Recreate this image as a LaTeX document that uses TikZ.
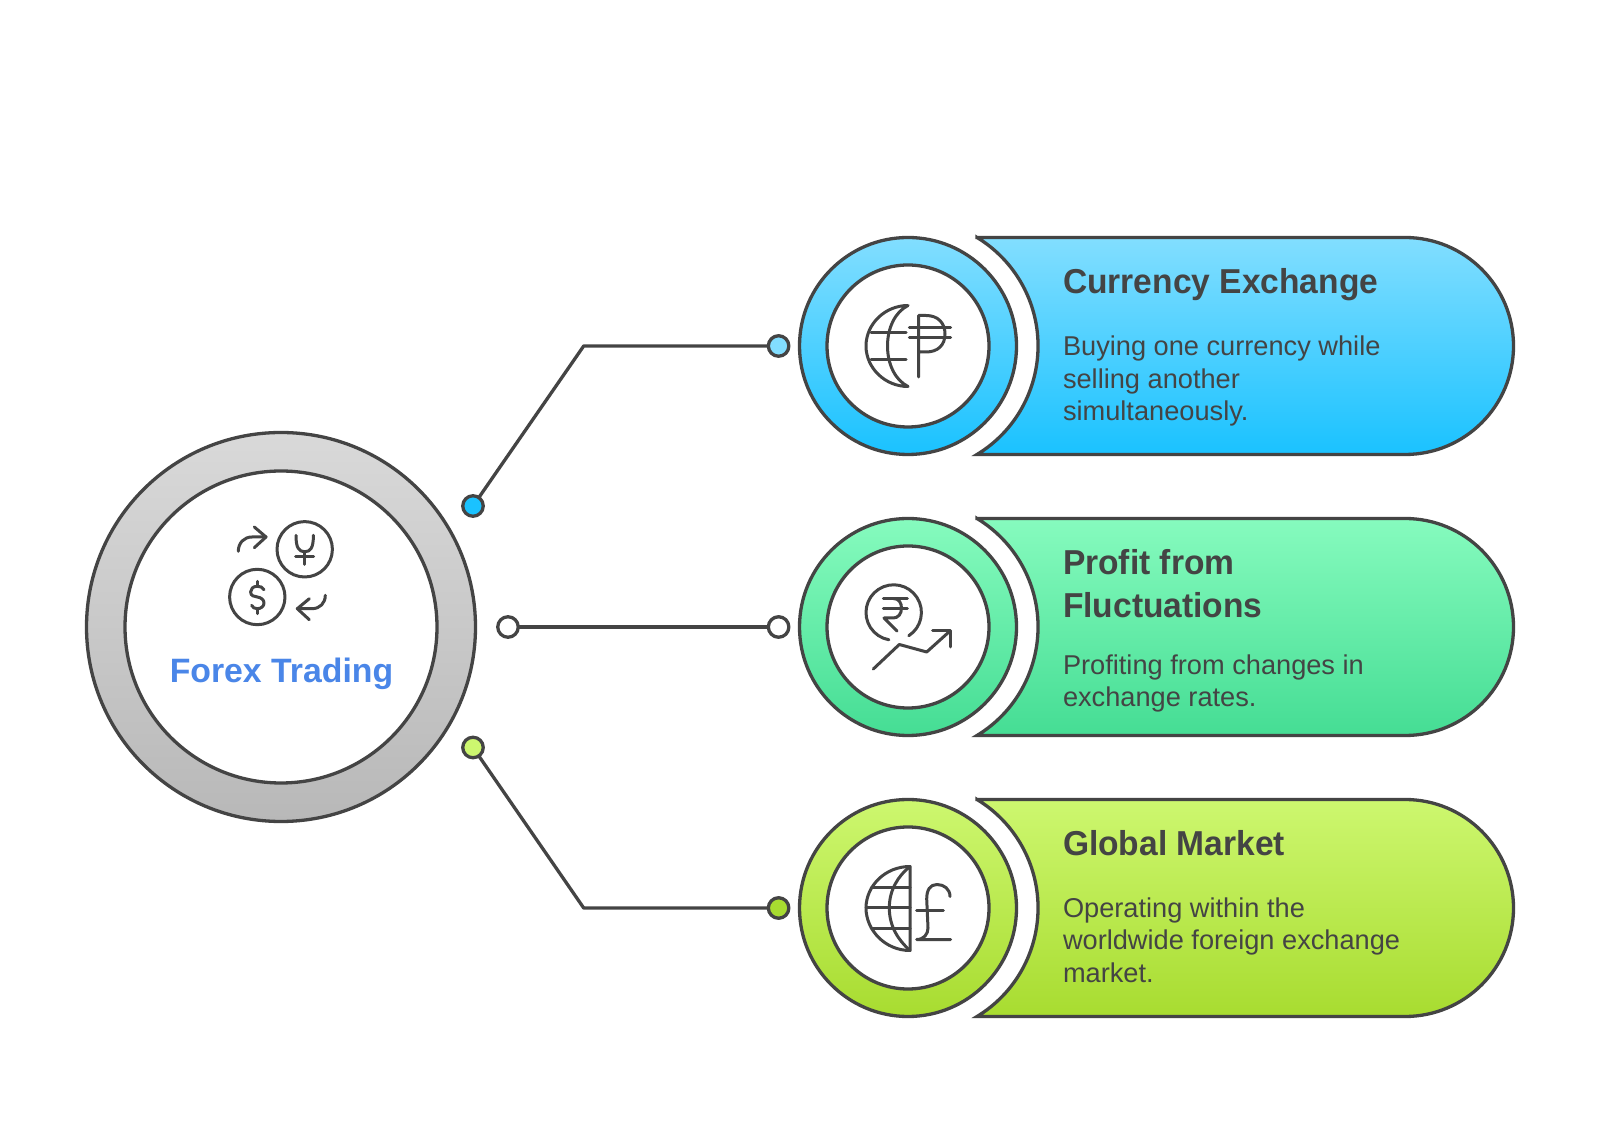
\documentclass[tikz,border=0pt]{standalone}
\usepackage{fontspec}
\setmainfont{Liberation Sans}
\newfontfamily\headfont[FakeStretch=0.97]{Liberation Sans}
\begin{document}
\begin{tikzpicture}[x=1pt,y=1pt,line join=round,
  ink/.style={draw=inkc,line width=3.3pt},
  ring/.style={circle,ink,inner sep=0pt,outer sep=0pt},
  hole/.style={circle,ink,fill=white,inner sep=0pt,outer sep=0pt,minimum size=162pt},
  dot/.style={circle,ink,inner sep=0pt,outer sep=0pt,minimum size=20.5pt},
  conn/.style={draw=inkc,line width=3.3pt},
  icon/.style={draw=inkc,line width=3pt,line cap=round,line join=round},
  pill/.style={draw=inkc,line width=3.3pt,miter limit=10,line join=miter},
  head/.style={anchor=base west,inner sep=0pt,outer sep=0pt,align=left,text=txtc,font=\headfont\bfseries\fontsize{34.6}{43}\selectfont},
  body/.style={anchor=base west,inner sep=0pt,outer sep=0pt,align=left,text=txtc,font=\fontsize{27.2}{32.3}\selectfont}]
\definecolor{inkc}{HTML}{444444}
\definecolor{txtc}{HTML}{444444}
\definecolor{blT}{HTML}{82DEFF}
\definecolor{blB}{HTML}{1AC2FF}
\definecolor{grT}{HTML}{86FBBE}
\definecolor{grB}{HTML}{45DD94}
\definecolor{liT}{HTML}{CDF76F}
\definecolor{liB}{HTML}{A8DC30}
\definecolor{gyT}{HTML}{D9D9D9}
\definecolor{gyB}{HTML}{B8B8B8}
\definecolor{hubt}{HTML}{4A86E8}
\fill[white] (0,0) rectangle (1600,1146);
\useasboundingbox (0,0) rectangle (1600,1146);

% hub
\node[ring,minimum size=389pt,top color=gyT,bottom color=gyB] (hubo) at (281,519) {};
\node[hole,minimum size=312pt] (hubi) at (281,519) {};
\node[anchor=base,inner sep=0pt,text=hubt,font=\bfseries\fontsize{33.8}{40}\selectfont] (hubt) at (281.5,463) {Forex Trading};
\begin{scope}[shift={(281,519)}]
  \node[circle,icon,inner sep=0pt,outer sep=0pt,minimum size=55.4pt] (yc) at (23.7,77.7) {};
  \node[circle,icon,inner sep=0pt,outer sep=0pt,minimum size=55.4pt] (dc) at (-23.7,30) {};
  \draw[icon] (23.7-8.7,77.7+14) .. controls (15,77.7+1) and (18,75.5) .. (23.7,75.2) .. controls (29.4,75.5) and (32.4,77.7+1) .. (32.4,77.7+14);
  \draw[icon] (23.7,75.2) -- (23.7,62.7) (14.7,70.7) -- (32.7,70.7);
  \draw[icon] (-23.7+6.7,30+7.3) .. controls (-23.7+5.5,30+10) and (-23.7+2.5,30+10.7) .. (-23.7,30+10.7)
     .. controls (-23.7-4.5,30+10.7) and (-23.7-6.7,30+8) .. (-23.7-6.7,30+5)
     .. controls (-23.7-6.7,30+1) and (-23.7-3,30+0.5) .. (-23.7,30)
     .. controls (-23.7+3.5,30-0.5) and (-23.7+6.7,30-2.5) .. (-23.7+6.7,30-6)
     .. controls (-23.7+6.7,30-9.5) and (-23.7+3.5,30-11.7) .. (-23.7,30-11.7)
     .. controls (-23.7-2.5,30-11.7) and (-23.7-4.8,30-10.5) .. (-23.7-5.7,30-8.3);
  \draw[icon] (-23.7,45.7) -- (-23.7,40.7) (-23.7,18.3) -- (-23.7,13.3);
  \draw[icon] (-42.7,75.7) .. controls (-42.7,84) and (-37,90) .. (-29,90) -- (-15,90);
  \draw[icon] (-26.7,100) -- (-15,90) -- (-26.7,79.3);
  \draw[icon] (44.3,31.7) .. controls (44.3,24) and (39,18.3) .. (31,18.3) -- (16.3,18.3);
  \draw[icon] (28.3,28.3) -- (16.3,18.3) -- (28.3,7.3);
\end{scope}

% row 1
\begin{scope}[shift={(908,800)}]
  \draw[pill,top color=blT,bottom color=blB] (69,108.5) -- (497,108.5) arc (90:-90:108.5) -- (69,-108.5) arc (-58.7:58.7:127) -- cycle;
  \node[ring,minimum size=217pt,top color=blT,bottom color=blB] (c1) at (0,0) {};
  \node[hole] (h1) at (0,0) {};
  \draw[icon] (0,40.5) .. controls (-23,40.5) and (-42,22) .. (-42,0) .. controls (-42,-22) and (-23,-40.5) .. (0,-40.5) .. controls (-13,-34) and (-20.5,-18) .. (-20.5,0) .. controls (-20.5,18) and (-13,34) .. (0,40.5);
  \draw[icon] (-37,13) -- (-2,13) (-37,-13.5) -- (-2,-13.5);
  \draw[icon] (10.7,-31) -- (10.7,30.5) -- (18,30.5) .. controls (30,30.5) and (37,23) .. (37,12) .. controls (37,1) and (30,-6) .. (18,-6) -- (10.7,-6);
  \draw[icon] (1.3,18) -- (42.7,18) (1.3,8) -- (42.7,8);
\end{scope}
\node[head] (t1) at (1063,852) {Currency Exchange};
\node[body] (b1) at (1063,725.5) {Buying one currency while\\selling another\\simultaneously.};

% row 2
\begin{scope}[shift={(908,519)}]
  \draw[pill,top color=grT,bottom color=grB] (69,108.5) -- (497,108.5) arc (90:-90:108.5) -- (69,-108.5) arc (-58.7:58.7:127) -- cycle;
  \node[ring,minimum size=217pt,top color=grT,bottom color=grB] (c2) at (0,0) {};
  \node[hole] (h2) at (0,0) {};
  \draw[icon] (-14.3,14.5) ++(303:27.7) arc (303:620:27.7);
  \draw[icon] (-24.7,28.5) -- (-0.7,28.5) (-24.7,18.8) -- (-0.7,18.8);
  \draw[icon] (-14.7,28.5) .. controls (-9,28.5) and (-6.5,24) .. (-6.5,18.8) .. controls (-6.5,13) and (-10,9) .. (-14.7,9) -- (-24,9) -- (-11,-4);
  \draw[icon] (-34.7,-42) -- (-8.7,-17.5) -- (18.7,-25) -- (42,-4);
  \draw[icon] (24.7,-3.5) -- (42.7,-3.5) -- (42.7,-20);
\end{scope}
\node[head] (t2) at (1063,528.5) {Profit from\\Fluctuations};
\node[body] (b2) at (1063,439) {Profiting from changes in\\exchange rates.};

% row 3
\begin{scope}[shift={(908,238)}]
  \draw[pill,top color=liT,bottom color=liB] (69,108.5) -- (497,108.5) arc (90:-90:108.5) -- (69,-108.5) arc (-58.7:58.7:127) -- cycle;
  \node[ring,minimum size=217pt,top color=liT,bottom color=liB] (c3) at (0,0) {};
  \node[hole] (h3) at (0,0) {};
  \draw[icon] (2,41.5) .. controls (-23,41.5) and (-42,22) .. (-42,0) .. controls (-42,-22) and (-23,-42.5) .. (2,-42.5) -- cycle;
  \draw[icon] (2,41.5) .. controls (-10,32) and (-18.7,18) .. (-18.7,0) .. controls (-18.7,-18) and (-10,-32) .. (2,-42.5);
  \draw[icon] (-36.7,20) -- (2,20) (-42,0.8) -- (2,0.8) (-36.7,-20) -- (2,-20);
  \draw[icon] (42,11.5) .. controls (42,19) and (36,23.5) .. (29,23.5) .. controls (22,23.5) and (18.7,18) .. (18.7,9) -- (20,-20) .. controls (20,-26) and (16,-31.5) .. (8.7,-31.5) -- (42.7,-31.5);
  \draw[icon] (8.7,-3) -- (35.3,-3);
\end{scope}
\node[head] (t3) at (1063,290) {Global Market};
\node[body] (b3) at (1063,164) {Operating within the\\worldwide foreign exchange\\market.};

% connectors
\coordinate (e1) at (583.7,800);
\coordinate (e3) at (583.7,238);
\node[dot,fill=blB] (sa) at (473,640) {};
\node[dot,fill=white] (sb) at (508,519) {};
\node[dot,fill=liT] (sc) at (473,398.5) {};
\node[dot,fill=blT] (ea) at (778.6,800) {};
\node[dot,fill=white] (eb) at (778.6,519) {};
\node[dot,fill=liB] (ec) at (778.6,238) {};
\draw[conn] (sa) -- (e1) -- (ea);
\draw[conn] (sb) -- (eb);
\draw[conn] (sc) -- (e3) -- (ec);
\end{tikzpicture}
\end{document}
